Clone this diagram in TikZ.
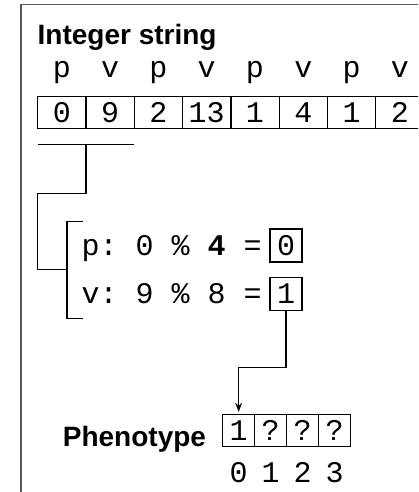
\documentclass[tikz,border=0pt]{standalone}
\usepackage{fontspec}
\setsansfont{Liberation Sans}
\setmonofont{Liberation Mono}
\usetikzlibrary{matrix,positioning,calc,arrows.meta}

\begin{document}
\begin{tikzpicture}[x=1pt, y=-1pt, line width=1.3pt,
    title/.style={font=\sffamily\bfseries\fontsize{28}{30}\selectfont, inner sep=0},
    mono/.style={font=\ttfamily\fontsize{30}{32}\selectfont, inner sep=0},
    cell/.style={draw, mono, minimum width=32pt, minimum height=33pt}]
  \clip (0,0) rectangle (418,492);
  \useasboundingbox (0,0) rectangle (418,492);
  % frame
  \draw[gray!70!black, line width=1.5pt] (21,500) -- (21,4.5) -- (430,4.5);

  \node[title, anchor=base west] (intlabel) at (37,45) {Integer string};
  \matrix(genome)[matrix of nodes, anchor=north west, inner sep=0, outer sep=0,
    row sep=7pt, column sep=-\pgflinewidth,
    nodes={mono, minimum width=48.3pt, minimum height=32pt},
    row 2/.style={nodes={draw}}] at (37,54) {
    p & v & p & v & p & v & p & v\\
    0 & 9 & 2 & 13 & 1 & 4 & 1 & 2\\
  };

  % decode step
  \node[cell] (pbox) at (286,245.5) {0};
  \node[cell] (vbox) at (286,294) {1};
  \node[mono, base left=7pt of pbox] (ptext) {p: 0 \% \textbf{4} =};
  \node[mono, base left=7pt of vbox] (vtext) {v: 9 \% 8 =};

  \coordinate (brtop) at ($(ptext.west |- pbox.north)+(-14,-7)$);
  \coordinate (brbot) at ($(ptext.west |- vbox.south)+(-14,7)$);
  \coordinate (brmid) at ($(brtop)!0.5!(brbot)$);
  \draw ($(brtop)+(16,0)$) -- (brtop) -- (brbot) -- ++(16,0);

  \coordinate (gtop) at ($(genome-2-1.south west)+(0,16)$);
  \coordinate (gmid) at ($(genome-2-1.south east)+(0,16)$);
  \coordinate (gend) at ($(genome-2-2.south east)+(0,16)$);
  \draw (gtop) -- (gend);
  \draw (gmid) -- ++(0,49) -| (gtop |- brmid) -- (brmid);

  % phenotype
  \matrix(pheno)[matrix of nodes, anchor=north west, inner sep=0, outer sep=0,
    row sep=9pt, column sep=-\pgflinewidth,
    nodes={mono, minimum width=32pt, minimum height=32pt},
    row 1/.style={nodes={draw}}] at (222,414) {
    1 & ? & ? & ?\\
    0 & 1 & 2 & 3\\
  };
  \node[title, anchor=base east] (phenolabel) at ($(pheno-1-1.south west)+(-16,0)$) {Phenotype};

  \draw[-{Stealth[length=9pt,width=7pt]}, shorten >=3pt] (vbox.south) -- ++(0,56) -| (pheno-1-1.north);
\end{tikzpicture}
\end{document}
